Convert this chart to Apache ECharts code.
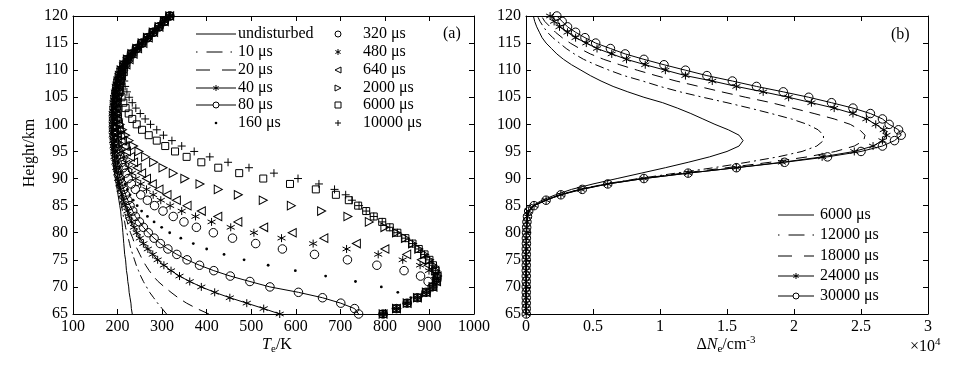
<!DOCTYPE html>
<html><head><meta charset="utf-8">
<script src="https://cdn.jsdelivr.net/npm/echarts@6/dist/echarts.min.js"></script>
<style>html,body{margin:0;padding:0;background:#fff}#c{width:960px;height:365px}</style>
</head><body><div id="c"></div>
<script>
// ---------------- DATA ----------------
const heights = [65,66,67,68,69,70,71,72,73,74,75,76,77,78,79,80,81,82,83,84,85,86,87,88,89,90,91,92,93,94,95,96,97,98,99,100,101,102,103,104,105,106,107,108,109,110,111,112,113,114,115,116,117,118,119,120];

// Panel (a): electron temperature Te / K
const teUndisturbed = [233,231,230,228,226,225,223,222,220,219, 218,216,215,214,213,212,211,210,208,207, 205,203,201,199,197,195,193,191,190,189, 188,187,186,185,185,185,185,185,186,187, 188,190,192,195,198,202,208,216,226,238, 251,264,277,290,303,317];
const te10us = [310,300,290,281,272,265,258,252,247,242, 238,234,230,227,224,221,218,216,213,211, 209,206,204,202,199,197,195,193,191,190, 189,188,187,186,186,186,186,186,187,188, 189,191,193,196,199,203,209,217,227,239, 251,264,277,290,303,317];
const te20us = [405,378,355,336,320,305,291,280,271,263, 256,250,244,238,234,229,225,222,218,215, 212,209,207,204,201,199,197,195,193,191, 190,189,188,187,187,187,187,187,188,189, 190,192,194,197,200,204,210,218,228,240, 252,265,278,291,304,317];
const te40us = [564,528,490,452,418,388,362,339,320,304, 290,279,268,258,250,243,237,231,226,222, 217,213,210,207,204,201,199,197,195,193, 192,191,190,189,189,189,189,189,190,191, 192,194,196,199,202,206,212,220,230,241, 253,266,279,292,305,317];
const te80us = [741,732,701,660,606,542,497,453,416,384, 356,333,313,296,282,269,258,249,240,234, 228,223,218,214,210,206,203,201,199,197, 195,194,193,192,191,191,191,191,192,193, 194,196,198,201,204,208,214,222,231,242, 254,267,280,293,305,317];
const te160us = [796,826,848,858,829,792,734,667,599,538, 484,439,400,370,342,317,299,282,267,254, 244,235,228,222,217,212,208,205,202,200, 198,197,196,195,194,194,194,194,195,196, 197,199,201,203,206,210,216,223,232,243, 255,267,280,293,305,317];
const te320us = [796,826,850,873,892,906,897,880,843,782, 716,642,570,510,458,415,377,349,325,302, 283,267,252,240,231,224,218,213,209,206, 203,201,199,198,197,196,196,196,197,198, 199,201,203,205,208,212,218,225,234,244, 256,268,281,293,305,317];
const te480us = [796,826,850,873,893,908,915,912,899,879, 840,785,714,639,568,506,454,411,375,344, 318,297,280,265,252,241,232,225,219,214, 208,205,202,200,199,198,197,197,197,198, 199,201,203,205,208,212,218,225,234,244, 256,268,281,293,305,317];
const te640us = [796,826,850,873,893,908,916,917,912,897, 882,849,800,736,663,592,528,470,425,388, 356,332,311,293,278,265,254,244,236,229, 220,215,211,207,204,202,200,199,199,199, 200,202,204,206,209,213,219,226,235,245, 257,269,281,293,305,317];
const te2000us = [796,826,850,873,893,908,916,918,914,908, 900,889,876,862,846,826,800,765,717,658, 590,527,471,426,385,351,325,302,281,263, 248,236,226,218,211,206,202,199,198,197, 197,198,199,201,204,208,214,222,232,243, 255,267,280,293,305,317];
const te6000us = [796,826,850,873,893,908,916,918,914,908, 900,889,876,862,846,828,811,794,775,758, 740,719,690,645,587,527,473,426,388,355, 329,307,288,270,255,243,233,225,218,213, 209,206,204,205,207,210,215,222,231,242, 254,266,279,292,305,317];
const te10000us = [796,826,850,873,893,908,916,918,914,908, 900,889,876,862,846,828,811,794,775,758, 742,726,712,687,652,605,551,495,448,407, 372,344,322,303,288,274,262,251,241,233, 226,221,217,215,214,215,218,224,233,243, 255,267,280,293,305,317];

// Panel (b): electron density change ΔNe in units of 1e4 cm^-3
const dNe6000us = [0,0,0,0,0,0,0,0,0,0.001, 0.001,0.001,0.001,0.001,0.002,0.002,0.003,0.005,0.009,0.02, 0.05,0.12,0.22,0.34,0.50,0.68,0.86,1.04,1.21,1.37, 1.50,1.59,1.62,1.59,1.51,1.41,1.32,1.23,1.13,1.02, 0.88,0.76,0.65,0.56,0.48,0.41,0.34,0.28,0.23,0.19, 0.15,0.12,0.10,0.08,0.065,0.055];
const dNe12000us = [0,0,0,0,0,0,0,0.001,0.001,0.001, 0.001,0.001,0.002,0.002,0.003,0.003,0.004,0.006,0.01,0.02, 0.06,0.14,0.25,0.40,0.59,0.84,1.12,1.40,1.65,1.88, 2.06,2.17,2.22,2.22,2.18,2.10,1.98,1.83,1.67,1.50, 1.32,1.15,1.00,0.87,0.73,0.62,0.52,0.43,0.36,0.30, 0.25,0.20,0.16,0.13,0.105,0.085];
const dNe18000us = [0,0,0,0,0,0,0,0.001,0.001,0.001, 0.001,0.002,0.002,0.003,0.003,0.004,0.005,0.007,0.011,0.02, 0.06,0.14,0.25,0.40,0.60,0.86,1.17,1.50,1.82,2.10, 2.31,2.45,2.52,2.53,2.49,2.42,2.30,2.15,1.99,1.83, 1.64,1.46,1.29,1.12,0.97,0.83,0.70,0.58,0.48,0.40, 0.33,0.27,0.22,0.18,0.14,0.115];
const dNe24000us = [0.002,0.002,0.002,0.002,0.002,0.002,0.002,0.002,0.002,0.002, 0.002,0.002,0.002,0.003,0.003,0.004,0.005,0.007,0.011,0.02, 0.06,0.15,0.26,0.41,0.61,0.88,1.21,1.57,1.91,2.21, 2.45,2.59,2.66,2.69,2.67,2.61,2.54,2.44,2.30,2.13, 1.96,1.77,1.57,1.39,1.19,1.04,0.89,0.75,0.64,0.53, 0.45,0.37,0.31,0.25,0.21,0.18];
const dNe30000us = [0.002,0.002,0.002,0.002,0.002,0.002,0.002,0.002,0.002,0.002, 0.002,0.002,0.002,0.003,0.003,0.004,0.005,0.007,0.011,0.02, 0.06,0.15,0.26,0.42,0.61,0.88,1.21,1.57,1.93,2.25, 2.50,2.66,2.75,2.80,2.78,2.71,2.66,2.57,2.44,2.28, 2.11,1.92,1.72,1.54,1.35,1.19,1.03,0.88,0.74,0.63, 0.52,0.44,0.37,0.31,0.27,0.23];

const namesA = ['undisturbed','10 μs','20 μs','40 μs','80 μs','160 μs','320 μs','480 μs','640 μs','2000 μs','6000 μs','10000 μs'];
const namesB = ['6000 μs','12000 μs','18000 μs','24000 μs','30000 μs'];

// ---------------- STYLE ----------------
const FONT = 'Liberation Serif';
const DASHDOT = [9,4,2,4];
const DASHED = [11,7];
const specA = [
  {data: teUndisturbed, line: 'solid', mark: 'none'},
  {data: te10us, line: DASHDOT, mark: 'none'},
  {data: te20us, line: DASHED, mark: 'none'},
  {data: te40us, line: 'solid', mark: 'star'},
  {data: te80us, line: 'solid', mark: 'circle'},
  {data: te160us, line: null, mark: 'dot'},
  {data: te320us, line: null, mark: 'circle'},
  {data: te480us, line: null, mark: 'star'},
  {data: te640us, line: null, mark: 'triL'},
  {data: te2000us, line: null, mark: 'triR'},
  {data: te6000us, line: null, mark: 'square'},
  {data: te10000us, line: null, mark: 'plus'}
];
const specB = [
  {data: dNe6000us, line: 'solid', mark: 'none'},
  {data: dNe12000us, line: DASHDOT, mark: 'none'},
  {data: dNe18000us, line: DASHED, mark: 'none'},
  {data: dNe24000us, line: 'solid', mark: 'star'},
  {data: dNe30000us, line: 'solid', mark: 'circle'}
];

const hollow = {color: 'none', borderColor: '#000', borderWidth: 1};
const markDefs = {
  none:   {symbol: 'none'},
  star:   {symbol: 'path://M0,-10L0,10M-8.66,-5L8.66,5M-8.66,5L8.66,-5', symbolSize: [8,8], itemStyle: hollow},
  circle: {symbol: 'circle', symbolSize: 8.5, itemStyle: hollow},
  dot:    {symbol: 'circle', symbolSize: 2.8, itemStyle: {color: '#000', borderWidth: 0}},
  triL:   {symbol: 'path://M-10,0L10,-10L10,10Z', symbolSize: [8,8.5], itemStyle: hollow},
  triR:   {symbol: 'path://M10,0L-10,-10L-10,10Z', symbolSize: [8,8.5], itemStyle: hollow},
  square: {symbol: 'rect', symbolSize: 7, itemStyle: hollow},
  plus:   {symbol: 'path://M0,-10L0,10M-10,0L10,0', symbolSize: 8, itemStyle: hollow}
};

function makeSeries(name, spec, axisIdx) {
  const m = markDefs[spec.mark];
  const s = {
    type: 'line', name: name, xAxisIndex: axisIdx, yAxisIndex: axisIdx,
    data: spec.data.map((v, i) => [v, heights[i]]),
    symbol: m.symbol, clip: false, silent: true, animation: false,
    emphasis: {disabled: true},
    lineStyle: spec.line ? {color: '#000', width: 1, type: spec.line} : {width: 0, opacity: 0},
    z: 3
  };
  if (m.symbolSize) s.symbolSize = m.symbolSize;
  if (m.itemStyle) s.itemStyle = m.itemStyle; else s.itemStyle = {color: '#000'};
  return s;
}

function axis(kind, gridIndex, position, min, max, interval, showLabel) {
  return {
    type: 'value', gridIndex, position, min, max, interval,
    axisLine: {show: true, onZero: false, lineStyle: {color: '#000', width: 1}},
    axisTick: {show: true, inside: true, length: 5, lineStyle: {color: '#000', width: 1}},
    axisLabel: {show: showLabel, color: '#000', fontFamily: FONT, fontSize: 16, margin: 5,
      formatter: v => String(v)},
    splitLine: {show: false}
  };
}

// ---------------- LEGEND (drawn as graphics) ----------------
const G = [];
function txt(x, y, text, extra) {
  G.push(Object.assign({type: 'text', x, y, silent: true, z: 10,
    style: {text, fill: '#000', font: '16px "' + FONT + '"', textAlign: 'left', align: 'left', textVerticalAlign: 'middle', verticalAlign: 'middle'}}, extra || {}));
}
function seg(x1, y1, x2, y2, dash) {
  G.push({type: 'line', silent: true, z: 10, shape: {x1, y1, x2, y2}, style: {stroke: '#000', lineWidth: 1, lineDash: dash || null, fill: null}});
}
function sym(kind, cx, cy, s) {
  const h = s / 2;
  if (kind === 'circle') G.push({type: 'circle', silent: true, z: 11, shape: {cx, cy, r: h}, style: {fill: '#fff', stroke: '#000', lineWidth: 1}});
  else if (kind === 'dot') G.push({type: 'circle', silent: true, z: 11, shape: {cx, cy, r: 1.3}, style: {fill: '#000'}});
  else if (kind === 'star') { seg(cx, cy - h, cx, cy + h); seg(cx - h*0.87, cy - h/2, cx + h*0.87, cy + h/2); seg(cx - h*0.87, cy + h/2, cx + h*0.87, cy - h/2); }
  else if (kind === 'plus') { seg(cx, cy - h, cx, cy + h); seg(cx - h, cy, cx + h, cy); }
  else if (kind === 'square') G.push({type: 'rect', silent: true, z: 11, shape: {x: cx - h, y: cy - h, width: s, height: s}, style: {fill: 'none', stroke: '#000', lineWidth: 1}});
  else if (kind === 'triL') G.push({type: 'polygon', silent: true, z: 11, shape: {points: [[cx - h, cy], [cx + h, cy - h], [cx + h, cy + h]]}, style: {fill: 'none', stroke: '#000', lineWidth: 1}});
  else if (kind === 'triR') G.push({type: 'polygon', silent: true, z: 11, shape: {points: [[cx + h, cy], [cx - h, cy - h], [cx - h, cy + h]]}, style: {fill: 'none', stroke: '#000', lineWidth: 1}});
}
function legendItem(spec, name, x0, x1, y, tx, withLine) {
  if (withLine && spec.line) {
    let dash = null;
    if (spec.line === DASHDOT) dash = [1.5, 9, 16, 8, 1.5, 200];
    else if (spec.line === DASHED) dash = [14, 12, 200];
    seg(x0, y, x1, y, dash);
  }
  if (spec.mark !== 'none') sym(spec.mark, (x0 + x1) / 2, y, 6);
  txt(tx, y, name);
}
const rowsA = [34, 52, 70, 88, 105, 123];
for (let i = 0; i < 6; i++) legendItem(specA[i], namesA[i], 196, 236, rowsA[i], 238, true);
for (let i = 6; i < 12; i++) legendItem(specA[i], namesA[i], 338, 338, rowsA[i - 6], 363, false);
const rowsB = [215, 235, 256, 276, 296];
for (let i = 0; i < 5; i++) legendItem(specB[i], namesB[i], 778, 814, rowsB[i], 820, true);

// Panel tags and axis titles
txt(443, 34, '(a)');
txt(891, 35, '(b)');
G.push({type: 'text', x: 30, y: 153, rotation: Math.PI / 2, silent: true, z: 10,
  style: {text: 'Height/km', fill: '#000', font: '16px "' + FONT + '"', textAlign: 'center', align: 'center', textVerticalAlign: 'middle', verticalAlign: 'middle'}});
const richBase = {
  n: {fontSize: 16, fontFamily: FONT, lineHeight: 20, color: '#000'},
  i: {fontSize: 16, fontFamily: FONT, fontStyle: 'italic', lineHeight: 20, color: '#000'},
  s: {fontSize: 11, fontFamily: FONT, lineHeight: 11, verticalAlign: 'bottom', color: '#000'},
  p: {fontSize: 11, fontFamily: FONT, lineHeight: 11, verticalAlign: 'top', color: '#000'}
};
G.push({type: 'text', x: 277, y: 345, silent: true, z: 10,
  style: {text: '{i|T}{s|e}{n|/K}', rich: richBase, textAlign: 'center', align: 'center', textVerticalAlign: 'middle', verticalAlign: 'middle'}});
G.push({type: 'text', x: 726, y: 345, silent: true, z: 10,
  style: {text: '{n|Δ}{i|N}{s|e}{n|/cm}{p|-3}', rich: richBase, textAlign: 'center', align: 'center', textVerticalAlign: 'middle', verticalAlign: 'middle'}});
G.push({type: 'text', x: 910, y: 347, silent: true, z: 10,
  style: {text: '{n|×10}{p|4}', rich: richBase, textAlign: 'left', align: 'left', textVerticalAlign: 'middle', verticalAlign: 'middle'}});

// ---------------- CHART ----------------
const chart = echarts.init(document.getElementById('c'), null, {renderer: 'canvas'});
const series = [];
specA.forEach((s, i) => series.push(makeSeries(namesA[i], s, 0)));
specB.forEach((s, i) => series.push(makeSeries(namesB[i], s, 2)));
// empty series so the mirrored frame axes are active
series.push({type: 'line', data: [], xAxisIndex: 1, yAxisIndex: 1});
series.push({type: 'line', data: [], xAxisIndex: 3, yAxisIndex: 3});

chart.setOption({
  animation: false,
  backgroundColor: '#fff',
  grid: [
    {left: 73, top: 16, width: 401, height: 298},
    {left: 73, top: 16, width: 401, height: 298},
    {left: 526, top: 16, width: 402, height: 298},
    {left: 526, top: 16, width: 402, height: 298}
  ],
  xAxis: [
    axis('x', 0, 'bottom', 100, 1000, 100, true),
    axis('x', 1, 'top', 100, 1000, 100, false),
    axis('x', 2, 'bottom', 0, 3, 0.5, true),
    axis('x', 3, 'top', 0, 3, 0.5, false)
  ],
  yAxis: [
    axis('y', 0, 'left', 65, 120, 5, true),
    axis('y', 1, 'right', 65, 120, 5, false),
    axis('y', 2, 'left', 65, 120, 5, true),
    axis('y', 3, 'right', 65, 120, 5, false)
  ],
  series: series,
  graphic: {elements: G}
});
</script>
</body></html>
